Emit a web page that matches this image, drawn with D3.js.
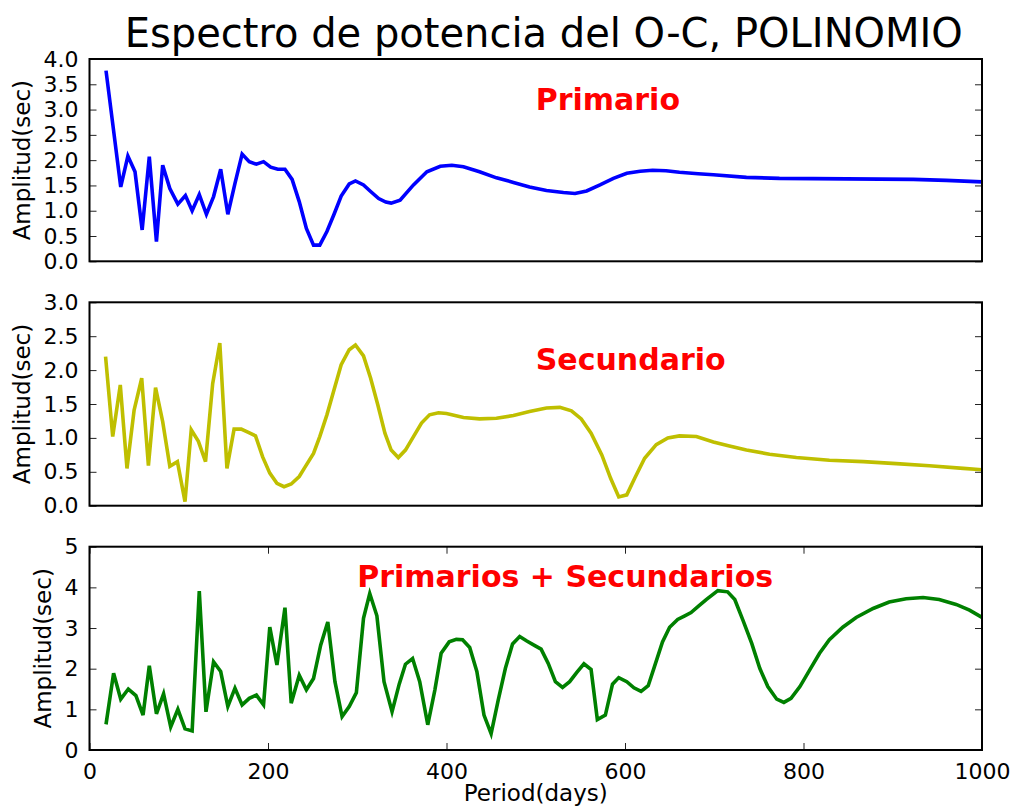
<!DOCTYPE html>
<html>
<head>
<meta charset="utf-8">
<script src="https://cdn.jsdelivr.net/npm/d3@7/dist/d3.min.js"></script>
<style>
  html, body { margin: 0; padding: 0; background: #fff; }
  svg { display: block; }
  text { font-family: "DejaVu Sans", sans-serif; }
</style>
</head>
<body>
<svg id="chart" width="1016" height="811"></svg>
<script>
// Primary minima: period (days) and amplitude (sec)
const primPeriod = [18.5,35,43,51,59,67,75,82,90,99,107.5,115,123,131,139,147,155,163,171,179,187,195,203,211,219,227,235,243,251,258,266,274,282,291,298,307,315,324,332,338,348,363,378,393,406,419,437,456,475,493,512,531,544,557,572,587,602,617,631,646,661,682,699,736,773,848,923,960,1000];
const primAmp = [3.77,1.47,2.08,1.77,0.62,2.07,0.39,1.90,1.44,1.13,1.30,1.00,1.32,0.93,1.28,1.82,0.93,1.54,2.12,1.97,1.92,1.97,1.86,1.82,1.82,1.62,1.18,0.65,0.32,0.32,0.59,0.93,1.29,1.53,1.59,1.51,1.38,1.24,1.17,1.15,1.21,1.51,1.77,1.88,1.90,1.87,1.77,1.65,1.56,1.47,1.40,1.36,1.34,1.39,1.51,1.64,1.74,1.78,1.80,1.79,1.76,1.73,1.71,1.66,1.64,1.63,1.62,1.60,1.57];

// Secondary minima
const secPeriod = [18,26,34.5,42,50,58.5,66,74,82,90,98.5,107,114,122,130,138,146,154,162,170,178,186,194,202,210,218,226,235,242,251,258,266,274,282,291,298,307,315,323,331,338,346,354,363,372,381,391,400,419,437,456,475,493,512,527,540,551,562,574,584,593,602,611,622,635,648,661,680,699,717,736,762,792,829,867,904,941,979,1000];
const secAmp = [2.20,1.02,1.78,0.55,1.41,1.88,0.59,1.74,1.24,0.58,0.65,0.06,1.12,0.95,0.65,1.80,2.40,0.55,1.13,1.13,1.08,1.03,0.72,0.48,0.33,0.28,0.32,0.43,0.58,0.77,1.02,1.34,1.71,2.08,2.30,2.37,2.21,1.88,1.49,1.07,0.82,0.71,0.82,1.02,1.22,1.34,1.37,1.36,1.30,1.28,1.29,1.33,1.39,1.44,1.45,1.40,1.28,1.07,0.75,0.40,0.13,0.16,0.41,0.70,0.90,1.00,1.03,1.02,0.94,0.88,0.82,0.76,0.71,0.67,0.65,0.62,0.59,0.55,0.53];

// Primary + secondary minima
const allPeriod = [18.5,27,35,43.5,52,60,67,75,83,91,99,107,115,123,130.5,139,147,155,163,171,179,187,195,202,210,219,226,235,243,251,259,267,275,283,291,299,307,314,322,330,339,347,354,362,370,379,387,394,403,411,418,426,434,442,450,458,466,474,482,490,498,506,514,522,530,538,546,554,562,569,578,586,593,602,610,618,626,633,642,650,659,667,674,683,691,704,715,723,732,742,751,760,770,778,786,796,807,818,829,844,859,878,896,915,934,952,971,986,1000];
const allAmp = [0.63,1.89,1.25,1.50,1.34,0.86,2.07,0.89,1.38,0.57,1.00,0.52,0.47,3.91,0.94,2.17,1.93,1.07,1.52,1.11,1.27,1.35,1.11,3.02,2.09,3.50,1.15,1.84,1.48,1.76,2.58,3.15,1.68,0.82,1.07,1.41,3.24,3.85,3.30,1.68,0.94,1.62,2.11,2.25,1.68,0.62,1.48,2.38,2.66,2.72,2.71,2.52,1.93,0.86,0.40,1.23,2.01,2.61,2.79,2.68,2.58,2.48,2.13,1.68,1.54,1.68,1.91,2.12,1.98,0.75,0.86,1.62,1.78,1.68,1.53,1.44,1.58,2.05,2.66,3.02,3.21,3.30,3.38,3.55,3.70,3.92,3.89,3.70,3.20,2.62,2.01,1.56,1.25,1.17,1.27,1.56,1.97,2.38,2.71,3.02,3.26,3.48,3.64,3.72,3.75,3.70,3.58,3.44,3.26];

const titleText = "Espectro de potencia del O-C, POLINOMIO";
const yLabelText = "Amplitud(sec)";
const xLabelText = "Period(days)";
const xTicks = [0, 200, 400, 600, 800, 1000];

const panels = [
  { period: primPeriod, amp: primAmp, color: "#0000ff", yMax: 4.0, yTicks: d3.range(0, 4.01, 0.5), fmt: d3.format(".1f"),
    label: "Primario", labelX: 500, labelY: 3.0, top: 59, bottom: 261.3, yLabelX: 30, showX: false },
  { period: secPeriod, amp: secAmp, color: "#bfbf00", yMax: 3.0, yTicks: d3.range(0, 3.01, 0.5), fmt: d3.format(".1f"),
    label: "Secundario", labelX: 500, labelY: 2.0, top: 302.3, bottom: 505.7, yLabelX: 30, showX: false },
  { period: allPeriod, amp: allAmp, color: "#008000", yMax: 5, yTicks: d3.range(0, 5.01, 1), fmt: d3.format("d"),
    label: "Primarios + Secundarios", labelX: 300, labelY: 4.0, top: 546.7, bottom: 750, yLabelX: 51, showX: true }
];

const svg = d3.select("#chart");
svg.append("rect").attr("width", 1016).attr("height", 811).attr("fill", "#fff");

const left = 89.5, right = 982;
const x = d3.scaleLinear().domain([0, 1000]).range([left, right]);
const tickLen = 7;

svg.append("text")
  .attr("x", (left + right) / 2 + 8).attr("y", 47)
  .attr("text-anchor", "middle")
  .attr("font-size", 40)
  .text(titleText);

panels.forEach(p => {
  const y = d3.scaleLinear().domain([0, p.yMax]).range([p.bottom, p.top]);
  const g = svg.append("g");
  const pts = p.period.map((d, i) => [d, p.amp[i]]);

  const clipId = "clip" + Math.round(p.top);
  g.append("clipPath").attr("id", clipId)
    .append("rect").attr("x", left).attr("y", p.top).attr("width", right - left).attr("height", p.bottom - p.top);

  // spectrum line
  g.append("path")
    .datum(pts)
    .attr("clip-path", `url(#${clipId})`)
    .attr("fill", "none")
    .attr("stroke", p.color)
    .attr("stroke-width", 3.6)
    .attr("stroke-linejoin", "miter")
    .attr("d", d3.line().x(d => x(d[0])).y(d => y(d[1])));

  // y ticks, inward on both sides
  const yLeft = d3.axisLeft(y).tickValues(p.yTicks).tickFormat(p.fmt).tickSizeInner(-tickLen).tickSizeOuter(0).tickPadding(11);
  const ya = g.append("g").attr("transform", `translate(${left},0)`).call(yLeft);
  ya.select(".domain").remove();
  ya.selectAll("line").attr("stroke", "#222").attr("stroke-width", 1);
  ya.selectAll("text").attr("font-size", 22).attr("fill", "#000").attr("font-family", "DejaVu Sans, sans-serif");

  const yRight = d3.axisRight(y).tickValues(p.yTicks).tickFormat("").tickSizeInner(-tickLen).tickSizeOuter(0);
  const yb = g.append("g").attr("transform", `translate(${right},0)`).call(yRight);
  yb.select(".domain").remove();
  yb.selectAll("line").attr("stroke", "#222").attr("stroke-width", 1);

  if (p.showX) {
    const xBottom = d3.axisBottom(x).tickValues(xTicks).tickFormat(d3.format("d")).tickSizeInner(-tickLen).tickSizeOuter(0).tickPadding(13);
    const xa = g.append("g").attr("transform", `translate(0,${p.bottom})`).call(xBottom);
    xa.select(".domain").remove();
    xa.selectAll("line").attr("stroke", "#222").attr("stroke-width", 1);
    xa.selectAll("text").attr("font-size", 22).attr("fill", "#000").attr("font-family", "DejaVu Sans, sans-serif");

    const xTop = d3.axisTop(x).tickValues(xTicks).tickFormat("").tickSizeInner(-tickLen).tickSizeOuter(0);
    const xt = g.append("g").attr("transform", `translate(0,${p.top})`).call(xTop);
    xt.select(".domain").remove();
    xt.selectAll("line").attr("stroke", "#222").attr("stroke-width", 1);
  }

  // frame
  g.append("rect")
    .attr("x", left).attr("y", p.top)
    .attr("width", right - left).attr("height", p.bottom - p.top)
    .attr("fill", "none").attr("stroke", "#000").attr("stroke-width", 2);

  // series label
  g.append("text")
    .attr("x", x(p.labelX)).attr("y", y(p.labelY))
    .attr("fill", "#ff0000")
    .attr("font-size", 30)
    .attr("font-weight", "bold")
    .text(p.label);

  // y axis title
  g.append("text")
    .attr("transform", `translate(${p.yLabelX},${(p.top + p.bottom) / 2}) rotate(-90)`)
    .attr("text-anchor", "middle")
    .attr("font-size", 23)
    .text(yLabelText);
});

svg.append("text")
  .attr("x", (left + right) / 2).attr("y", 801)
  .attr("text-anchor", "middle")
  .attr("font-size", 23)
  .text(xLabelText);
</script>
</body>
</html>
